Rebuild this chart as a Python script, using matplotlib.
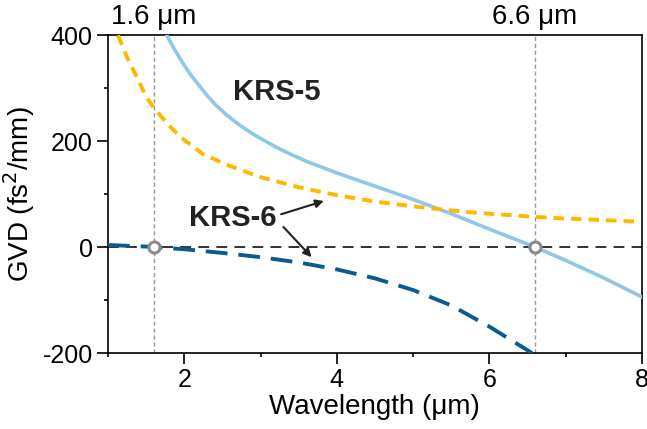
import numpy as np
import matplotlib.pyplot as plt
from matplotlib.ticker import MultipleLocator

plt.rcParams['font.family'] = ['Liberation Sans', 'DejaVu Sans']
plt.rcParams['axes.unicode_minus'] = False

# GVD curves (fs^2/mm) vs wavelength (um)
krs5_wl = [1.77, 1.88, 2.0, 2.1, 2.2, 2.3, 2.4, 2.55, 2.7, 2.85, 3.0, 3.2, 3.4, 3.6, 3.8, 4.0,
           4.5, 5.0, 5.5, 6.0, 6.6, 7.0, 7.5, 8.0]
krs5_gvd = [400, 371, 343, 322, 304, 286, 270, 250, 233, 218, 205, 189, 175, 162, 151, 140,
            115, 90, 63, 34, 0, -25, -58, -94]

krs6_top_wl = [1.13, 1.25, 1.38, 1.5, 1.6, 1.7, 1.85, 2.0, 2.25, 2.6, 3.0, 3.5, 4.0, 4.5,
               5.0, 5.5, 6.0, 6.6, 7.0, 7.5, 7.95]
krs6_top_gvd = [400, 358, 320, 284, 263, 246, 222, 202, 175, 153, 132, 113, 98, 86,
                77, 69, 63, 57, 54, 51, 48]

krs6_bot_wl = [1.0, 1.5, 2.0, 2.5, 3.0, 3.5, 4.0, 4.5, 5.0, 5.5, 6.0, 6.56]
krs6_bot_gvd = [4, 1, -4, -11, -19, -29, -42, -59, -81, -110, -150, -200]

zero_wl = [1.6, 6.6]
zero_labels = ['1.6 μm', '6.6 μm']

c_krs5 = '#8ec8e6'
c_top = '#ffb700'
c_bot = '#0b5c8c'

fig = plt.figure(figsize=(6.47, 4.29), dpi=100)
ax = fig.add_axes([0.167, 0.177, 0.825, 0.741])

ax.axhline(0, color='#222222', lw=1.3, dashes=(6, 4), zorder=1)
for w, lab in zip(zero_wl, zero_labels):
    ax.axvline(w, color='#999999', lw=1.0, dashes=(3, 2), zorder=1)
    ax.text(w, 1.057, lab, transform=ax.get_xaxis_transform(),
            ha='center', va='center', fontsize=20)

ax.plot(krs5_wl, krs5_gvd, color=c_krs5, lw=2.6, zorder=3)
ax.plot(krs6_top_wl, krs6_top_gvd, color=c_top, lw=2.8, dashes=(2.7, 1.8), zorder=3)
ax.plot(krs6_bot_wl, krs6_bot_gvd, color=c_bot, lw=2.8, dashes=(5.6, 2.8), zorder=3)

ax.plot(zero_wl, [0, 0], 'o', ms=8, mfc='white', mec='#8a8a8a', mew=2.2, zorder=5)

ax.text(3.21, 292, 'KRS-5', fontsize=21, fontweight='bold', ha='center', va='center', color='#222222')
ax.text(2.64, 55, 'KRS-6', fontsize=21, fontweight='bold', ha='center', va='center', color='#222222')
arrow = dict(arrowstyle='-|>', color='#222222', lw=1.5, mutation_scale=12, shrinkA=0, shrinkB=0)
ax.annotate('', xy=(3.83, 87), xytext=(3.27, 62), arrowprops=arrow)
ax.annotate('', xy=(3.67, -19), xytext=(3.30, 38), arrowprops=arrow)

ax.set_xlim(1, 8)
ax.set_ylim(-200, 400)
ax.xaxis.set_major_locator(MultipleLocator(2))
ax.xaxis.set_minor_locator(MultipleLocator(1))
ax.yaxis.set_major_locator(MultipleLocator(200))
ax.yaxis.set_minor_locator(MultipleLocator(100))
ax.tick_params(which='major', length=8, width=1.2, labelsize=18, pad=3)
ax.tick_params(which='minor', length=3, width=1.2)
for s in ax.spines.values():
    s.set_linewidth(1.2)

ax.set_xlabel('Wavelength (μm)', fontsize=20, labelpad=1)
ax.set_ylabel('GVD (fs$^2$/mm)', fontsize=20, labelpad=4)

fig.savefig('out.png', dpi=100)
